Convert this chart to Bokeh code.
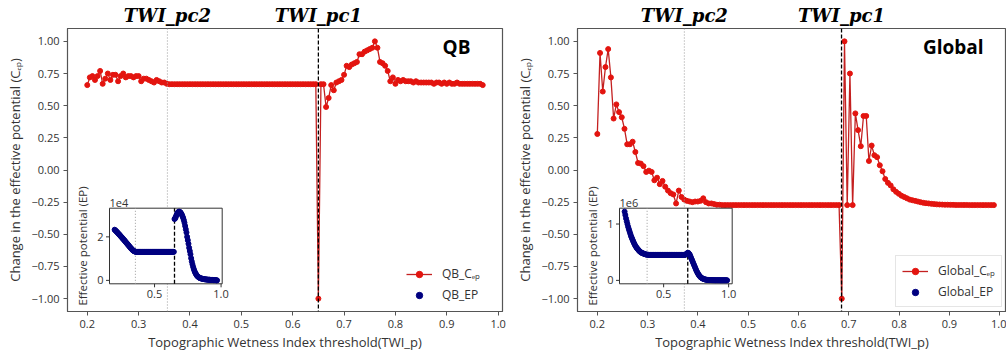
import numpy as np
from bokeh.plotting import figure
from bokeh.layouts import row
from bokeh.models import Range1d, Span, Label, Legend, LegendItem, FixedTicker, LinearAxis
from bokeh.core.properties import value
from bokeh.embed import file_html
from bokeh.resources import INLINE

# ---------------- data ----------------
# QB: thresholds on a regular 0.005 grid from 0.2 to 0.97
twi_qb = np.round(0.2 + 0.005 * np.arange(155), 4)
cep_qb = [
    0.66, 0.72, 0.73, 0.70, 0.73, 0.77, 0.67, 0.71, 0.75, 0.70,
    0.74, 0.74, 0.69, 0.73, 0.75, 0.72, 0.73, 0.73, 0.72, 0.73,
    0.73, 0.69, 0.71, 0.71, 0.70, 0.69, 0.68, 0.70, 0.69, 0.68,
    0.68, 0.67,
    0.667, 0.667, 0.667, 0.667, 0.667, 0.667, 0.667, 0.667, 0.667, 0.667,
    0.667, 0.667, 0.667, 0.667, 0.667, 0.667, 0.667, 0.667, 0.667, 0.667,
    0.667, 0.667, 0.667, 0.667, 0.667, 0.667, 0.667, 0.667, 0.667, 0.667,
    0.667, 0.667, 0.667, 0.667, 0.667, 0.667, 0.667, 0.667, 0.667, 0.667,
    0.667, 0.667, 0.667, 0.667, 0.667, 0.667, 0.667, 0.667, 0.667, 0.667,
    0.667, 0.667, 0.667, 0.667, 0.667, 0.667, 0.667, 0.667,
    -1.00,
    0.667, 0.667, 0.49, 0.56, 0.66, 0.62, 0.68, 0.69, 0.70, 0.74,
    0.81, 0.80, 0.82, 0.83, 0.84, 0.90, 0.90, 0.92, 0.93, 0.94,
    0.95, 1.00, 0.95, 0.84, 0.83, 0.81, 0.77, 0.69, 0.72, 0.67,
    0.70, 0.69,
    0.70, 0.69, 0.69, 0.69, 0.68, 0.69, 0.68, 0.68, 0.68, 0.68,
    0.68, 0.68, 0.67, 0.68, 0.68, 0.67, 0.68, 0.67, 0.68, 0.67,
    0.67, 0.68, 0.67, 0.67, 0.67, 0.67, 0.67, 0.67, 0.67, 0.67,
    0.67, 0.66,
]
ep_qb_1e4 = [
    2.33, 2.30, 2.27, 2.24, 2.21, 2.17, 2.14, 2.11, 2.07, 2.04,
    2.00, 1.97, 1.93, 1.90, 1.86, 1.83, 1.79, 1.75, 1.72, 1.68,
    1.64, 1.61, 1.57, 1.53, 1.50, 1.46, 1.43, 1.40, 1.37, 1.35,
    1.33, 1.32,
    1.31, 1.31, 1.31, 1.31, 1.31, 1.31, 1.31, 1.31, 1.31, 1.31,
    1.31, 1.31, 1.31, 1.31, 1.31, 1.31, 1.31, 1.31, 1.31, 1.31,
    1.31, 1.31, 1.31, 1.31, 1.31, 1.31, 1.31, 1.31, 1.31, 1.31,
    1.31, 1.31, 1.31, 1.31, 1.31, 1.31, 1.31, 1.31, 1.31, 1.31,
    1.31, 1.31, 1.31, 1.31, 1.31, 1.31, 1.31, 1.31, 1.31, 1.31,
    1.31, 1.31, 1.31, 1.31, 1.31, 1.31, 1.31, 1.31,
    2.82, 2.85, 2.92, 3.00, 3.07, 3.12, 3.15, 3.16, 3.15, 3.12,
    3.08, 3.02, 2.95, 2.87, 2.77, 2.65, 2.50, 2.35, 2.20, 2.00,
    1.85, 1.68, 1.50, 1.35, 1.20, 1.02, 0.87, 0.74, 0.62, 0.52,
    0.43, 0.36, 0.30, 0.25, 0.21, 0.18, 0.15, 0.13, 0.11, 0.10,
    0.09, 0.08, 0.07, 0.06, 0.06, 0.05, 0.05, 0.04, 0.04, 0.04,
    0.03, 0.03, 0.03, 0.03, 0.02, 0.02, 0.02, 0.02, 0.01, 0.01,
    0.01, 0.01, 0.01, 0.00, 0.00,
]
pc1_qb, pc2_qb = 0.65, 0.356

# Global: thresholds on a regular 0.0054 grid from 0.2 to ~0.988
twi_gl = np.round(0.2 + 0.0054 * np.arange(147), 4)
cep_gl = [
    0.28, 0.91, 0.61, 0.80, 0.94, 0.72, 0.40, 0.51, 0.45, 0.41,
    0.32, 0.20, 0.20, 0.22, 0.14, 0.055, 0.05, 0.03, -0.015, -0.005,
    -0.015, -0.08, -0.06, -0.11, -0.085, -0.13, -0.16, -0.18, -0.19, -0.26,
    -0.16, -0.21, -0.23, -0.24, -0.245, -0.25, -0.245, -0.245, -0.24, -0.22,
    -0.25, -0.26, -0.26, -0.265, -0.27, -0.27,
    -0.273, -0.273, -0.273, -0.273, -0.273, -0.273, -0.273, -0.273, -0.273, -0.273,
    -0.273, -0.273, -0.273, -0.273, -0.273, -0.273, -0.273, -0.273, -0.273, -0.273,
    -0.273, -0.273, -0.273, -0.273, -0.273, -0.273, -0.273, -0.273, -0.273, -0.273,
    -0.273, -0.273, -0.273, -0.273, -0.273, -0.273, -0.273, -0.273, -0.273, -0.273,
    -0.273, -0.273, -0.273, -0.273,
    -1.00, 1.00, -0.273, 0.75, -0.273, 0.44, 0.31, 0.185, 0.42, 0.42,
    0.07, 0.19, 0.115, 0.10, 0.037, -0.01, -0.07, -0.10, -0.12, -0.15,
    -0.17, -0.185, -0.20, -0.21, -0.22, -0.23, -0.235, -0.24, -0.245, -0.25,
    -0.255, -0.258, -0.26, -0.263, -0.265, -0.267, -0.268, -0.269, -0.27, -0.27,
    -0.271, -0.271, -0.272, -0.272, -0.272, -0.272, -0.272,
    -0.273, -0.273, -0.273, -0.273, -0.273, -0.273, -0.273, -0.273, -0.273, -0.273,
]
ep_gl_1e6 = [
    1.22, 1.16, 1.10, 1.05, 1.00, 0.95, 0.91, 0.87, 0.83, 0.79,
    0.76, 0.73, 0.70, 0.67, 0.645, 0.62, 0.60, 0.58, 0.565, 0.55,
    0.535, 0.52, 0.51, 0.50, 0.49, 0.485, 0.48, 0.475, 0.47, 0.465,
    0.46, 0.458, 0.456, 0.455, 0.454,
    0.452, 0.452, 0.452, 0.452, 0.452, 0.452, 0.452, 0.452, 0.452, 0.452,
    0.452, 0.452, 0.452, 0.452, 0.452, 0.452, 0.452, 0.452, 0.452, 0.452,
    0.452, 0.452, 0.452, 0.452, 0.452, 0.452, 0.452, 0.452, 0.452, 0.452,
    0.452, 0.452, 0.452, 0.452, 0.452, 0.452, 0.452, 0.452, 0.452, 0.452,
    0.452, 0.452, 0.452, 0.452, 0.452, 0.452, 0.452, 0.452, 0.452, 0.452,
    0.452, 0.452,
    0.46, 0.47, 0.48, 0.49, 0.485, 0.47, 0.45, 0.42, 0.39, 0.36,
    0.33, 0.30, 0.27, 0.24, 0.21, 0.18, 0.155, 0.13, 0.11, 0.09,
    0.075, 0.06, 0.05, 0.04, 0.033, 0.027, 0.022, 0.018, 0.015, 0.012,
    0.010, 0.008, 0.007, 0.006, 0.005, 0.005, 0.004, 0.004, 0.003, 0.003,
    0.003, 0.002, 0.002, 0.002, 0.002, 0.002, 0.002, 0.002, 0.002, 0.001,
    0.001, 0.001, 0.001, 0.001, 0.001, 0.001, 0.001, 0.001, 0.001, 0.001,
]
pc1_gl, pc2_gl = 0.6855, 0.373

x_ticks = [0.2, 0.3, 0.4, 0.5, 0.6, 0.7, 0.8, 0.9, 1.0]
y_ticks = [-1.0, -0.75, -0.5, -0.25, 0.0, 0.25, 0.5, 0.75, 1.0]
inset_x_ticks = [0.5, 1.0]
inset_y_ticks_qb = [0, 2]
inset_y_ticks_gl = [0, 1]

# ---------------- style ----------------
FONT = "Open Sans"
RED_PT = "#e3140f"
RED_LN = "#c42020"
NAVY = "#000080"
TXT = "#333333"
SPINE = "#555555"
H, BT, BB = 358, 28, 47
BOX_L, BOX_R, BOX_B, BOX_T = 42, 154.7, 27.7, 103.3  # inset box, px from frame left/bottom


def ext_range(d0, d1, p0, p1, total):
    s = (p1 - p0) / (d1 - d0)
    return Range1d(d0 - p0 / s, d1 + (total - p1) / s)


def panel(name, twi, cep, ep, pc1, pc2, xr, ixr, iyr, iyt, expo,
          width, bl, br, leg_xy, leg_border, title_xy):
    p = figure(width=width, height=H, output_backend="svg", toolbar_location=None,
               x_range=Range1d(*xr), y_range=Range1d(-1.1, 1.1),
               min_border_left=bl, min_border_right=br,
               min_border_top=BT, min_border_bottom=BB)
    fw, fh = width - bl - br, H - BT - BB
    p.outline_line_color = SPINE
    p.outline_line_width = 1.2
    p.grid.grid_line_color = None
    p.background_fill_color = "white"
    p.border_fill_color = "white"
    for ax in (p.xaxis[0], p.yaxis[0]):
        ax.axis_line_color = SPINE
        ax.major_tick_line_color = SPINE
        ax.major_tick_out = 4
        ax.major_tick_in = 0
        ax.minor_tick_line_color = None
        ax.major_label_text_font = FONT
        ax.major_label_text_font_size = "11px"
        ax.major_label_text_color = TXT
        ax.axis_label_text_font = FONT
        ax.axis_label_text_font_size = "13px"
        ax.axis_label_text_font_style = "normal"
        ax.axis_label_text_color = TXT
    p.xaxis.ticker = FixedTicker(ticks=x_ticks)
    p.yaxis.ticker = FixedTicker(ticks=y_ticks)
    p.xaxis.major_label_overrides = {v: "%.1f" % v for v in x_ticks}
    p.yaxis.major_label_overrides = {v: ("%.2f" % v).replace("-", "\u2212") for v in y_ticks}
    p.xaxis.major_label_standoff = 4
    p.yaxis.major_label_standoff = 4
    p.xaxis.axis_label_standoff = 2
    p.yaxis.axis_label_standoff = 4
    p.xaxis.axis_label = "Topographic Wetness Index threshold(TWI_p)"
    p.yaxis.axis_label = "Change in the effective potential (C\u2091\u209a)"

    # threshold names above the frame, as an axis whose ticks sit at the thresholds
    top = LinearAxis(ticker=FixedTicker(ticks=[pc2, pc1]),
                     major_label_overrides={pc2: "TWI_pc2", pc1: "TWI_pc1"},
                     axis_line_color=None, major_tick_line_color=None,
                     major_tick_out=0, major_tick_in=0,
                     minor_tick_line_color=None, minor_tick_out=0, minor_tick_in=0,
                     major_label_standoff=3,
                     major_label_text_font="DejaVu Serif",
                     major_label_text_font_style="bold italic",
                     major_label_text_font_size="18px",
                     major_label_text_color="black")
    p.add_layout(top, "above")

    # threshold lines
    p.add_layout(Span(location=pc2, dimension="height", line_color="#9a9a9a",
                      line_dash="1 2", line_width=1))
    p.add_layout(Span(location=pc1, dimension="height", line_color="black",
                      line_dash="4 2", line_width=1.3))

    r_ln = p.line(twi, cep, line_color=RED_LN, line_width=1.3)
    r_pt = p.scatter(twi, cep, size=5, fill_color=RED_PT, line_color=RED_PT)

    # inset (own ranges mapped into a small box of the frame)
    p.extra_x_ranges = {"ix": ext_range(ixr[0], ixr[1], BOX_L, BOX_R, fw)}
    p.extra_y_ranges = {"iy": ext_range(iyr[0], iyr[1], BOX_B, BOX_T, fh)}
    kw = dict(x_range_name="ix", y_range_name="iy", level="overlay")
    p.quad(left=[ixr[0]], right=[ixr[1]], bottom=[iyr[0]], top=[iyr[1]],
           fill_color="white", line_color="#333333", line_width=1, **kw)
    p.segment(x0=[pc2], x1=[pc2], y0=[iyr[0]], y1=[iyr[1]], line_color="#9a9a9a",
              line_dash="1 2", line_width=1, **kw)
    p.segment(x0=[pc1], x1=[pc1], y0=[iyr[0]], y1=[iyr[1]], line_color="black",
              line_dash="4 2", line_width=1.3, **kw)
    r_ep = p.scatter(twi, ep, size=5, fill_color=NAVY, line_color=NAVY, **kw)
    p.ray(x=[ixr[0]] * len(iyt), y=iyt, length=3.5, length_units="screen",
          angle=np.pi, line_color="#333333", **kw)
    p.ray(x=inset_x_ticks, y=[iyr[0]] * len(inset_x_ticks), length=3.5,
          length_units="screen", angle=-np.pi / 2, line_color="#333333", **kw)
    tkw = dict(text_font=value(FONT), text_font_size="11px", text_color=TXT)
    p.text(x=[ixr[0]] * len(iyt), y=iyt, text=[str(v) for v in iyt], x_offset=-6,
           text_align="right", text_baseline="middle", **tkw, **kw)
    p.text(x=inset_x_ticks, y=[iyr[0]] * len(inset_x_ticks),
           text=["%.1f" % v for v in inset_x_ticks], y_offset=6,
           text_align="center", text_baseline="top", **tkw, **kw)
    p.text(x=[ixr[0]], y=[iyr[1]], text=[expo], y_offset=-1,
           text_align="left", text_baseline="bottom", **tkw, **kw)
    p.text(x=[ixr[0]], y=[(iyr[0] + iyr[1]) / 2], text=["Effective potential (EP)"],
           angle=np.pi / 2, x_offset=-27, y_offset=0, text_align="center",
           text_baseline="middle", text_font=value(FONT), text_font_size="11.5px",
           text_color=TXT, **kw)

    p.add_layout(Label(x=title_xy[0], y=title_xy[1], text=name, text_align="right",
                       text_baseline="top", text_font=FONT, text_font_style="bold",
                       text_font_size="19px", text_color="black"))

    leg = Legend(items=[LegendItem(label=name + "_C\u2091\u209a", renderers=[r_ln, r_pt]),
                        LegendItem(label=name + "_EP", renderers=[r_ep])],
                 location=leg_xy, label_text_font=FONT, label_text_font_size="12px",
                 label_text_color=TXT, glyph_width=26, glyph_height=16,
                 label_height=16, spacing=4, padding=6, margin=0, label_standoff=10,
                 background_fill_alpha=0.85)
    if leg_border:
        leg.border_line_color = "#cccccc"
        leg.border_line_width = 1
    else:
        leg.border_line_color = None
    p.add_layout(leg)
    return p


p1 = panel("QB", twi_qb, cep_qb, ep_qb_1e4, pc1_qb, pc2_qb,
           xr=(0.1615, 1.0085), ixr=(0.1615, 1.0085), iyr=(-0.158, 3.318),
           iyt=inset_y_ticks_qb, expo="1e4", width=510, bl=67, br=8,
           leg_xy=(339, 8), leg_border=False, title_xy=(0.946, 1.06))
p2 = panel("Global", twi_gl, cep_gl, ep_gl_1e6, pc1_gl, pc2_gl,
           xr=(0.1606, 0.1606 + 429 / 503.0), ixr=(0.1606, 1.0274), iyr=(-0.061, 1.281),
           iyt=inset_y_ticks_gl, expo="1e6", width=496, bl=67, br=0,
           leg_xy=(318, 4), leg_border=True, title_xy=(0.968, 1.06))

layout = row(p1, p2)
open("out.html", "w").write(file_html(layout, INLINE))
